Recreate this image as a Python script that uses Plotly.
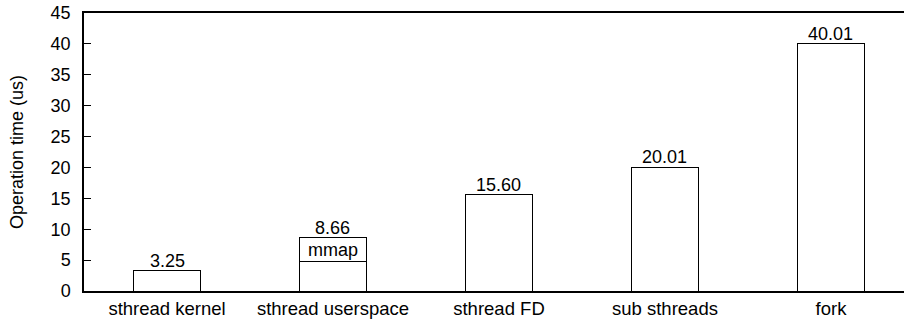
import plotly.graph_objects as go

categories = ["sthread kernel", "sthread userspace", "sthread FD", "sub sthreads", "fork"]
base_values = [3.25, 4.74, 15.60, 20.01, 40.01]
mmap_values = [None, 3.92, None, None, None]
mmap_label = "mmap"
y_title = "Operation time (us)"
y_ticks = [0, 5, 10, 15, 20, 25, 30, 35, 40, 45]

FONT = "Liberation Sans, Arial, sans-serif"

fig = go.Figure()
fig.add_trace(go.Bar(
    x=categories, y=base_values, width=0.4,
    marker=dict(color="white", line=dict(color="black", width=1)),
    showlegend=False, hoverinfo="skip",
))
fig.add_trace(go.Bar(
    x=categories, y=mmap_values, width=0.4,
    marker=dict(color="white", line=dict(color="black", width=1)),
    showlegend=False, hoverinfo="skip",
))

totals = [b + (m or 0) for b, m in zip(base_values, mmap_values)]
for c, t in zip(categories, totals):
    fig.add_annotation(x=c, y=t, text=f"{t:.2f}", showarrow=False,
                       yanchor="middle", yshift=10,
                       font=dict(family=FONT, size=18, color="black"))
for c, b, m in zip(categories, base_values, mmap_values):
    if m:
        fig.add_annotation(x=c, y=b + m / 2, text=mmap_label, showarrow=False,
                           yanchor="middle",
                           font=dict(family=FONT, size=18, color="black"))

fig.update_layout(
    width=904, height=320,
    margin=dict(l=84, r=0, t=13, b=29),
    barmode="stack",
    plot_bgcolor="white", paper_bgcolor="white",
    font=dict(family=FONT, size=18, color="black"),
    xaxis=dict(
        range=[-0.5, 4.44], showline=True, linecolor="black", linewidth=1.5,
        mirror=True, ticks="", showgrid=False, zeroline=False,
        tickfont=dict(size=18.5), automargin=False,
    ),
    yaxis=dict(
        range=[0, 45], tickvals=y_ticks, showline=True, linecolor="black",
        linewidth=1.5, ticks="inside", ticklen=7, tickcolor="black",
        showgrid=False, zeroline=False, ticklabelstandoff=8, automargin=False,
        ticklabeloverflow="allow",
        title=dict(text=y_title, standoff=22, font=dict(size=18)),
    ),
)

fig.write_html(
    "out.html",
    config={"displayModeBar": False},
    post_script="document.body.style.margin='0';document.body.style.overflow='hidden';",
)
